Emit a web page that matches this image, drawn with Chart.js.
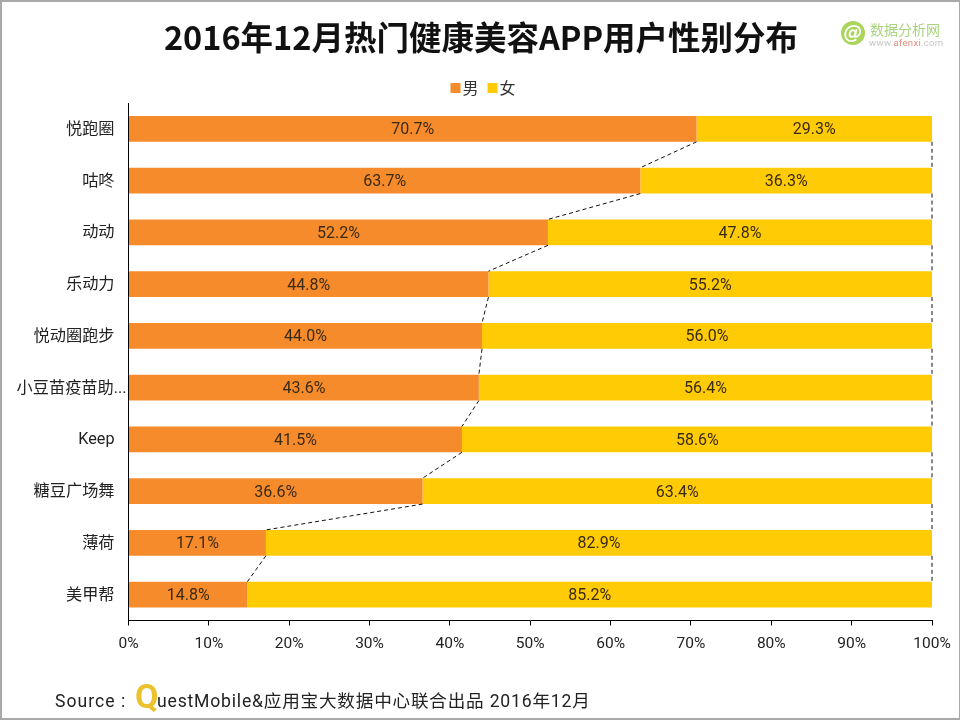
<!DOCTYPE html>
<html>
<head>
<meta charset="utf-8">
<script src="https://cdn.jsdelivr.net/npm/chart.js@4/dist/chart.umd.min.js"></script>
<style>
html,body{margin:0;padding:0;background:#fff;}
#wrap{position:relative;width:960px;height:720px;overflow:hidden;background:#fff;}
canvas{position:absolute;left:0;top:0;}
#frame{position:absolute;left:0;top:0;right:0;bottom:0;border:solid #a9a9a9;border-width:2px 1px 2px 2px;pointer-events:none;}
#source{position:absolute;left:55px;top:686px;font:17.6px Roboto,"Noto Sans CJK SC",sans-serif;letter-spacing:.8px;color:#222;white-space:nowrap;line-height:30px;}
#src{letter-spacing:1px;}
#q{position:absolute;left:80px;top:-10px;font:bold 34px Roboto,sans-serif;color:#ebc22e;letter-spacing:0;}
#rest{position:absolute;left:102px;top:0;}
#logoC{position:absolute;left:841px;top:21px;width:24px;height:24px;border-radius:50%;background:#a9d65a;color:#fff;font:italic bold 19px/22px "DejaVu Sans",sans-serif;text-align:center;}
#logoT{position:absolute;left:870px;top:21px;font:14px/16px "Noto Sans CJK SC",sans-serif;color:#a9d47e;white-space:nowrap;}
#logoU{position:absolute;left:869px;top:37px;font:9.5px/11px Roboto,sans-serif;color:#c6c6c6;letter-spacing:.3px;white-space:nowrap;}
#logoU b{font-weight:normal;color:#e58b7c;}
</style>
</head>
<body>
<div id="wrap">
<canvas id="c" width="960" height="720"></canvas>
<div id="logoC">@</div>
<div id="logoT">数据分析网</div>
<div id="logoU">www.<b>afenxi</b>.com</div>
<div id="source"><span id="src">Source :</span><span id="q">Q</span><span id="rest">uestMobile&amp;应用宝大数据中心联合出品 2016年12月</span></div>
<div id="frame"></div>
</div>
<script>
const categories = ["悦跑圈","咕咚","动动","乐动力","悦动圈跑步","小豆苗疫苗助...","Keep","糖豆广场舞","薄荷","美甲帮"];
const maleValues = [70.7,63.7,52.2,44.8,44.0,43.6,41.5,36.6,17.1,14.8];
const femaleValues = [29.3,36.3,47.8,55.2,56.0,56.4,58.6,63.4,82.9,85.2];
const seriesNames = ["男","女"];
const seriesColors = ["#f68b2c","#ffcb05"];
const titleText = "2016年12月热门健康美容APP用户性别分布";

function legendSquare(color){
  const k = document.createElement("canvas");
  k.width = 20; k.height = 10;
  const g = k.getContext("2d");
  g.fillStyle = color;
  g.fillRect(8,0,10,10);
  return k;
}
const spacing = {
  id:"spacing",
  beforeInit(chart){ chart.ctx.letterSpacing = "0.6px"; },
  afterLayout(chart){
    chart.scales.y.left = 0;
    chart.legend.top += 3; chart.legend.bottom += 3;
    chart.legend.left += 2; chart.legend.right += 2;
  },
  beforeDraw(chart){
    chart.scales.y.getLabelItems().forEach(item=>{
      if(item.shifted) return;
      item.shifted = true;
      item.options.translation[1] += 1;
      if(String(item.label).endsWith("...")) item.options.translation[0] += 12;
    });
  }
};
const seriesLines = {
  id:"seriesLines",
  afterDatasetsDraw(chart){
    const ctx = chart.ctx;
    ctx.save();
    ctx.strokeStyle = "#111";
    ctx.lineWidth = 1;
    ctx.setLineDash([4,3]);
    chart.data.datasets.forEach((ds,di)=>{
      const bars = chart.getDatasetMeta(di).data;
      for(let i=0;i<bars.length-1;i++){
        const a = bars[i], b = bars[i+1];
        const ax = Math.min(a.x, chart.chartArea.right), bx = Math.min(b.x, chart.chartArea.right);
        ctx.beginPath();
        ctx.moveTo(ax, a.y + a.height/2);
        ctx.lineTo(bx, b.y - b.height/2);
        ctx.stroke();
      }
    });
    ctx.restore();
  }
};
const barLabels = {
  id:"barLabels",
  afterDatasetsDraw(chart){
    const ctx = chart.ctx;
    ctx.save();
    ctx.font = '16px Roboto,"Noto Sans CJK SC",sans-serif';
    ctx.fillStyle = "#3a2a12";
    ctx.textAlign = "center";
    ctx.textBaseline = "middle";
    chart.data.datasets.forEach((ds,di)=>{
      chart.getDatasetMeta(di).data.forEach((bar,i)=>{
        const c = bar.getCenterPoint();
        ctx.fillText(ds.data[i].toFixed(1)+"%", c.x, c.y + 1.5);
      });
    });
    ctx.restore();
  }
};

new Chart(document.getElementById("c"),{
  type:"bar",
  data:{
    labels:categories,
    datasets:[
      {label:seriesNames[0],data:maleValues,backgroundColor:seriesColors[0],categoryPercentage:0.5,barPercentage:1},
      {label:seriesNames[1],data:femaleValues,backgroundColor:seriesColors[1],categoryPercentage:0.5,barPercentage:1}
    ]
  },
  options:{
    indexAxis:"y",
    responsive:false,
    animation:false,
    devicePixelRatio:1,
    layout:{padding:{left:30,right:28,top:0,bottom:0}},
    plugins:{
      tooltip:{enabled:false},
      title:{
        display:true,text:titleText,color:"#111",
        font:{family:'"Noto Sans CJK SC",sans-serif',size:32.5,weight:"bold",lineHeight:1.2},
        padding:{top:18,bottom:11}
      },
      legend:{
        position:"top",
        labels:{
          usePointStyle:true,pointStyleWidth:4,boxHeight:10,padding:9,color:"#333",
          font:{family:'"Noto Sans CJK SC",sans-serif',size:16},
          generateLabels(chart){
            const items = Chart.defaults.plugins.legend.labels.generateLabels(chart);
            items.forEach((it,i)=>{ it.pointStyle = legendSquare(seriesColors[i]); });
            return items;
          }
        }
      }
    },
    scales:{
      x:{
        stacked:true,min:0,max:100,
        border:{color:"#000",width:1},
        grid:{drawOnChartArea:false,drawTicks:true,tickLength:5,color:"#000"},
        ticks:{
          stepSize:10,color:"#222",padding:9,maxRotation:0,
          font:{family:'Roboto,"Noto Sans CJK SC",sans-serif',size:15.5},
          callback:v=>v+"%"
        },
        afterFit(s){s.height=99.5;}
      },
      y:{
        stacked:true,
        border:{color:"#000",width:1},
        grid:{display:false,drawTicks:false},
        ticks:{
          autoSkip:false,color:"#222",padding:14,
          font:{family:'Roboto,"Noto Sans CJK SC",sans-serif',size:16.2}
        },
        afterFit(s){s.width=98.5;}
      }
    }
  },
  plugins:[spacing,seriesLines,barLabels]
});
</script>
</body>
</html>
